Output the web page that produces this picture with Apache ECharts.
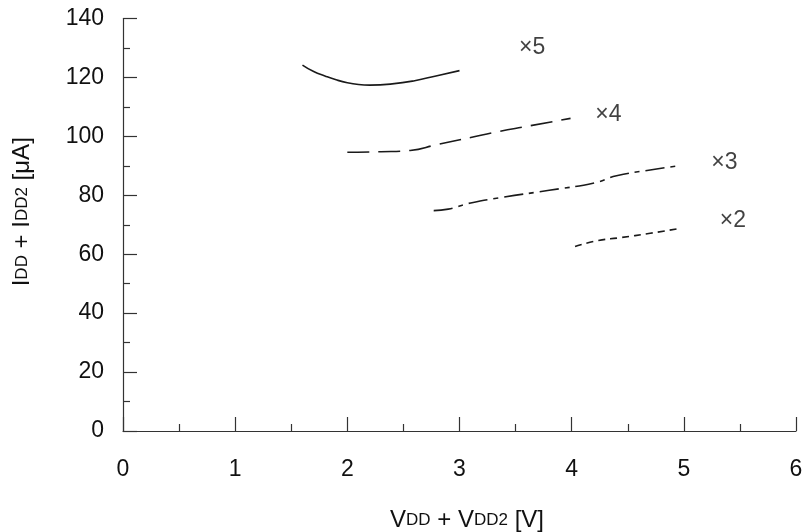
<!DOCTYPE html>
<html><head><meta charset="utf-8">
<script src="https://cdn.jsdelivr.net/npm/echarts@6/dist/echarts.min.js"></script>
<style>html,body{margin:0;padding:0;background:#fff}#c{width:808px;height:532px}</style>
</head><body><div id="c"></div>
<script>
const xTicks = [0, 1, 2, 3, 4, 5, 6];
const yTicks = [0, 20, 40, 60, 80, 100, 120, 140];
const curve5 = [[1.6,124.2],[1.7,122.0],[1.8,120.5],[1.9,119.2],[2.0,118.2],[2.1,117.6],[2.2,117.4],[2.4,117.8],[2.6,118.9],[2.8,120.6],[3.0,122.3]];
const curve4 = [[2.0,94.6],[2.3,94.8],[2.56,95.2],[2.8,97.2],[3.1,99.6],[3.33,101.5],[3.6,103.4],[3.99,106.1]];
const curve3 = [[2.77,74.8],[2.9,75.3],[3.1,77.4],[3.4,79.4],[3.8,81.7],[4.2,84.2],[4.4,86.6],[4.7,88.6],[4.97,90.1]];
const curve2 = [[4.03,62.6],[4.23,64.6],[4.43,65.6],[4.7,67.1],[4.97,68.8]];
const labels = [[3.53,130,'×5'],[4.21,107.3,'×4'],[5.245,91,'×3'],[5.32,71.3,'×2']];

const FONT = 'Liberation Sans, Arial, sans-serif';
const AX = '#333';
const LC = '#1a1a1a';
const TC = '#111';
const rich = {n: {fontSize: 24, fontFamily: FONT, color: TC}, s: {fontSize: 17, fontFamily: FONT, color: TC}};
const chart = echarts.init(document.getElementById('c'));
chart.setOption({
  animation: false,
  grid: {left: 123, right: 12, top: 18.5, bottom: 101, containLabel: false, outerBoundsMode: 'none'},
  xAxis: {
    type: 'value', min: xTicks[0], max: xTicks[xTicks.length-1], interval: 1,
    axisLine: {show: true, lineStyle: {color: AX, width: 1.2}},
    axisTick: {show: true, inside: true, length: 14, lineStyle: {color: AX, width: 1.2}},
    minorTick: {show: true, splitNumber: 2, length: 7, lineStyle: {color: AX, width: 1.2}},
    splitLine: {show: false},
    axisLabel: {margin: 27, fontSize: 23, color: TC, fontFamily: FONT},
    name: '{n|V}{s|DD}{n| + V}{s|DD2}{n| [V]}',
    nameLocation: 'middle', nameGap: 77,
    nameTextStyle: {fontFamily: FONT, fontSize: 24, color: TC, padding: [0, 0, 0, 15], rich: rich}
  },
  yAxis: {
    type: 'value', min: yTicks[0], max: yTicks[yTicks.length-1], interval: 20,
    axisLine: {show: true, lineStyle: {color: AX, width: 1.2}},
    axisTick: {show: true, inside: true, length: 14, lineStyle: {color: AX, width: 1.2}},
    minorTick: {show: true, splitNumber: 2, length: 7, lineStyle: {color: AX, width: 1.2}},
    splitLine: {show: false},
    axisLabel: {margin: 19, fontSize: 23, color: TC, fontFamily: FONT},
    name: '{n|I}{s|DD}{n| + I}{s|DD2}{n| [μA]}',
    nameLocation: 'middle', nameGap: 89, nameRotate: 90,
    nameTextStyle: {fontFamily: FONT, fontSize: 24, color: TC, padding: [0, 0, 0, 26], rich: rich}
  },
  series: [
    {type: 'line', data: curve5, smooth: true, showSymbol: false, lineStyle: {color: LC, width: 1.6, type: 'solid'}},
    {type: 'line', data: curve4, smooth: true, showSymbol: false, lineStyle: {color: LC, width: 1.6, type: [22, 9]}},
    {type: 'line', data: curve3, smooth: true, showSymbol: false, lineStyle: {color: LC, width: 1.6, type: [19, 6, 5, 6]}},
    {type: 'line', data: curve2, smooth: true, showSymbol: false, lineStyle: {color: LC, width: 1.6, type: [7, 5]}},
    {type: 'scatter', data: labels, symbolSize: 0,
      label: {show: true, position: 'right', distance: 0, fontSize: 23, fontFamily: FONT, color: TC,
        formatter: p => p.value[2]}}
  ]
});
</script></body></html>
